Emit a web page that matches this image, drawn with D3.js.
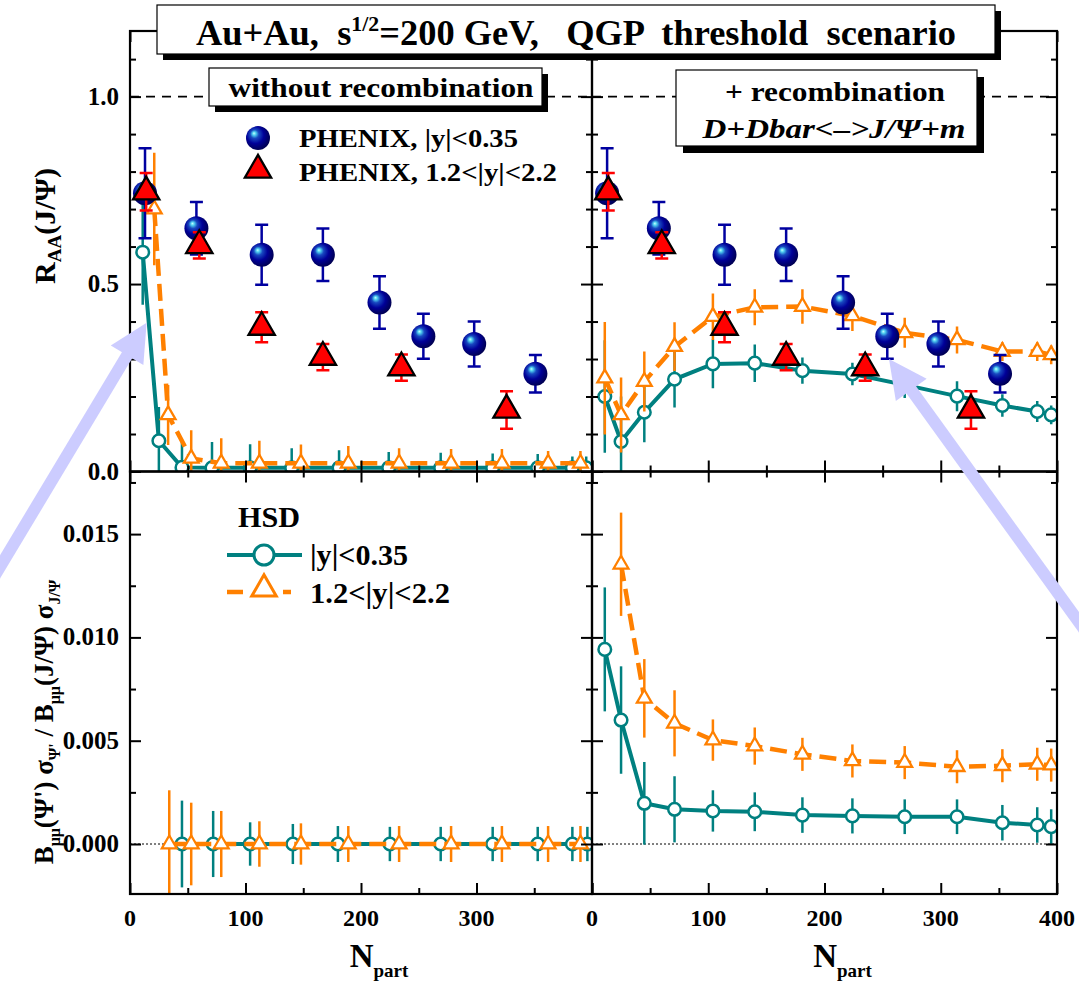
<!DOCTYPE html>
<html>
<head>
<meta charset="utf-8">
<script src="https://cdn.jsdelivr.net/npm/d3@7"></script>
<style>
  body { margin: 0; background: #fff; }
  svg { display: block; font-family: 'Liberation Serif', 'Times New Roman', serif; font-weight: bold; }
</style>
</head>
<body>
<svg width="1079" height="981"></svg>
<script>

////////////////////// DATA ////////////////////////////////////

// PHENIX, |y|<0.35
var phenix_mid_npart = [13, 57.5, 114, 167, 216, 254, 298, 351]
var phenix_mid_raa   = [0.742, 0.649, 0.578, 0.578, 0.451, 0.361, 0.340, 0.261]
var phenix_mid_err   = [0.12, 0.07, 0.08, 0.07, 0.07, 0.06, 0.06, 0.05]

// PHENIX, 1.2<|y|<2.2
var phenix_fwd_npart = [14, 60, 114, 167, 235, 326]
var phenix_fwd_raa   = [0.746, 0.603, 0.385, 0.305, 0.277, 0.164]
var phenix_fwd_err   = [0.05, 0.035, 0.04, 0.035, 0.035, 0.05]

// HSD, centrality bins
var hsd_npart = [11, 25, 45, 71, 104, 140, 181, 224, 269, 314, 353, 383, 395]

// HSD without recombination, R_AA
var norec_mid_raa = [0.585, 0.082, 0.011, 0.01, 0.01, 0.01, 0.01, 0.01, 0.01, 0.01, 0.01, 0.01, 0.01]
var norec_mid_err = [0.14, 0.09, 0.074, 0.069, 0.063, 0.052, 0.047, 0.042, 0.04, 0.038, 0.037, 0.03, 0.03]
var norec_fwd_npart = [21, 33, 53, 79, 112, 148, 189, 233, 278, 322, 362, 390]
var norec_fwd_raa = [0.70, 0.151, 0.035, 0.022, 0.022, 0.022, 0.022, 0.022, 0.022, 0.022, 0.022, 0.022]
var norec_fwd_err = [0.15, 0.08, 0.075, 0.067, 0.06, 0.05, 0.046, 0.04, 0.038, 0.038, 0.033, 0.033]

// HSD with recombination, R_AA
var rec_mid_raa = [0.20, 0.08, 0.158, 0.246, 0.287, 0.289, 0.269, 0.26, 0.231, 0.201, 0.176, 0.16, 0.151]
var rec_mid_err = [0.15, 0.12, 0.08, 0.075, 0.065, 0.05, 0.035, 0.03, 0.035, 0.04, 0.03, 0.028, 0.025]
var rec_fwd_raa = [0.249, 0.151, 0.24, 0.333, 0.413, 0.438, 0.44, 0.415, 0.37, 0.351, 0.32, 0.32, 0.311]
var rec_fwd_err = [0.15, 0.1, 0.08, 0.065, 0.062, 0.048, 0.046, 0.04, 0.04, 0.036, 0.025, 0.025, 0.025]

// HSD without recombination, psi'/(J/psi) ratio
var norec_ratio_mid_npart = [45, 72, 104, 141, 180, 225, 269, 314, 353, 383, 396]
var norec_ratio_mid = [0, 0, 0, 0, 0, 0, 0, 0, 0, 0, 0]
var norec_ratio_mid_err = [0.0021, 0.0016, 0.00105, 0.00097, 0.00087, 0.00083, 0.00083, 0.00083, 0.00083, 0.00083, 0.00083]
var norec_ratio_fwd_npart = [34, 53, 79, 112, 148, 189, 233, 278, 322, 362, 390]
var norec_ratio_fwd = [0, 0, 0, 0, 0, 0, 0, 0, 0, 0, 0]
var norec_ratio_fwd_err = [0.0026, 0.002, 0.0016, 0.0011, 0.001, 0.00087, 0.00087, 0.00087, 0.00087, 0.00087, 0.00087]

// HSD with recombination, psi'/(J/psi) ratio
var rec_ratio_mid = [0.00942, 0.0060, 0.00197, 0.00168, 0.0016, 0.00156, 0.0014, 0.00136, 0.00132, 0.00132, 0.00103, 0.00092, 0.00084]
var rec_ratio_mid_err = [0.003, 0.0026, 0.002, 0.0016, 0.001, 0.00094, 0.00086, 0.00085, 0.00084, 0.00084, 0.00086, 0.00086, 0.00084]
var rec_ratio_fwd_npart = [25, 45, 71, 104, 140, 181, 224, 269, 314, 353, 383, 395]
var rec_ratio_fwd = [0.01354, 0.00705, 0.00584, 0.00503, 0.00474, 0.00434, 0.00402, 0.00394, 0.00374, 0.00379, 0.00386, 0.00382]
var rec_ratio_fwd_err = [0.0025, 0.0019, 0.0016, 0.001, 0.0009, 0.0008, 0.0008, 0.0008, 0.0008, 0.0008, 0.0008, 0.0008]

// ticks
var x_major = [0, 100, 200, 300, 400]
var x_minor = [50, 150, 250, 350]
var raa_major = [0, 0.5, 1.0]
var raa_minor = [0.1, 0.2, 0.3, 0.4, 0.6, 0.7, 0.8, 0.9, 1.1]
var ratio_major = [0, 0.005, 0.010, 0.015]
var ratio_minor = [0.0025, 0.0075, 0.0125, 0.0175]

////////////////////// SETUP ////////////////////////////////////

var teal = '#008080'
var orange = '#ff8000'
var navy = '#0000a0'
var red = '#ff0000'
var lavender = '#ccccff'

var svg = d3.select('svg')
var defs = svg.append('defs')

var grad = defs.append('radialGradient').attr('id', 'ball')
  .attr('cx', 0.42).attr('cy', 0.42).attr('r', 0.6).attr('fx', 0.33).attr('fy', 0.3)
grad.selectAll('stop')
  .data([[0, '#c8ffff'], [0.12, '#50d0f0'], [0.3, '#1848c0'], [0.6, '#000098'], [1, '#000050']])
  .enter().append('stop')
    .attr('offset', (d) => d[0])
    .attr('stop-color', (d) => d[1])

var x_left  = d3.scaleLinear().domain([0, 400]).range([130, 592])
var x_right = d3.scaleLinear().domain([0, 400]).range([592, 1057])
var y_raa   = d3.scaleLinear().domain([0, 1.175]).range([471.5, 31])
var y_ratio = d3.scaleLinear().domain([-0.00242, 0.01803]).range([894, 471.5])

var panels = [
  { id: 'tl', x: x_left,  y: y_raa,   top: true,  left: true },
  { id: 'tr', x: x_right, y: y_raa,   top: true,  left: false },
  { id: 'bl', x: x_left,  y: y_ratio, top: false, left: true },
  { id: 'br', x: x_right, y: y_ratio, top: false, left: false }
]

panels.forEach((p) => {
  var r = p.x.range(), yr = p.y.range()
  defs.append('clipPath').attr('id', 'clip-' + p.id)
    .append('rect')
      .attr('x', r[0]).attr('y', yr[1])
      .attr('width', r[1] - r[0]).attr('height', yr[0] - yr[1])
  p.g = svg.append('g').attr('clip-path', 'url(#clip-' + p.id + ')')
})

////////////////////// DRAWING ////////////////////////////////////

function zip (npart, vals, errs) {
  return npart.map((n, i) => ({ n: n, v: vals[i], e: errs[i] }))
}

function hsd_series (g, x, y, pts, kind) {
  var col = kind === 'mid' ? teal : orange
  g.append('g').selectAll('line')
    .data(pts)
    .enter()
      .append('line')
      .attr('x1', (d) => x(d.n)).attr('x2', (d) => x(d.n))
      .attr('y1', (d) => y(d.v - d.e)).attr('y2', (d) => y(d.v + d.e))
      .attr('stroke', col).attr('stroke-width', 2.5)

  g.append('path').datum(pts)
    .attr('d', d3.line().x((d) => x(d.n)).y((d) => y(d.v)))
    .attr('fill', 'none')
    .attr('stroke', col)
    .attr('stroke-width', kind === 'mid' ? 4 : 4.5)
    .attr('stroke-dasharray', kind === 'mid' ? null : '17,8')

  if (kind === 'mid') {
    g.append('g').selectAll('circle')
      .data(pts)
      .enter()
        .append('circle')
        .attr('cx', (d) => x(d.n)).attr('cy', (d) => y(d.v))
        .attr('r', 6.3)
        .attr('fill', '#fff').attr('stroke', col).attr('stroke-width', 2.5)
  } else {
    g.append('g').selectAll('path')
      .data(pts)
      .enter()
        .append('path')
        .attr('d', d3.symbol(d3.symbolTriangle, 95))
        .attr('transform', (d) => 'translate(' + x(d.n) + ',' + y(d.v) + ')')
        .attr('fill', '#fff').attr('stroke', col).attr('stroke-width', 2.3)
  }
}

function phenix_series (g, x, y, pts, kind) {
  var col = kind === 'mid' ? navy : red
  var bars = g.append('g').attr('stroke', col).attr('stroke-width', 2.5)
  bars.selectAll('.err').data(pts).enter().append('line')
    .attr('x1', (d) => x(d.n)).attr('x2', (d) => x(d.n))
    .attr('y1', (d) => y(d.v - d.e)).attr('y2', (d) => y(d.v + d.e))
  bars.selectAll('.cap-hi').data(pts).enter().append('line')
    .attr('x1', (d) => x(d.n) - 6.5).attr('x2', (d) => x(d.n) + 6.5)
    .attr('y1', (d) => y(d.v + d.e)).attr('y2', (d) => y(d.v + d.e))
  bars.selectAll('.cap-lo').data(pts).enter().append('line')
    .attr('x1', (d) => x(d.n) - 6.5).attr('x2', (d) => x(d.n) + 6.5)
    .attr('y1', (d) => y(d.v - d.e)).attr('y2', (d) => y(d.v - d.e))

  if (kind === 'mid') {
    g.append('g').selectAll('circle')
      .data(pts)
      .enter()
        .append('circle')
        .attr('cx', (d) => x(d.n)).attr('cy', (d) => y(d.v))
        .attr('r', 12)
        .attr('fill', 'url(#ball)')
  } else {
    g.append('g').selectAll('path')
      .data(pts)
      .enter()
        .append('path')
        .attr('d', d3.symbol(d3.symbolTriangle, 300))
        .attr('transform', (d) => 'translate(' + x(d.n) + ',' + y(d.v) + ')')
        .attr('fill', red).attr('stroke', '#000').attr('stroke-width', 2.3)
  }
}

// reference lines
panels.forEach((p) => {
  var r = p.x.range()
  if (p.top) {
    p.g.append('line')
      .attr('x1', r[0]).attr('x2', r[1])
      .attr('y1', p.y(1)).attr('y2', p.y(1))
      .attr('stroke', '#000').attr('stroke-width', 1.6).attr('stroke-dasharray', '9,7')
  } else {
    p.g.append('line')
      .attr('x1', r[0]).attr('x2', r[1])
      .attr('y1', p.y(0)).attr('y2', p.y(0))
      .attr('stroke', '#000').attr('stroke-width', 1).attr('stroke-dasharray', '2,2')
  }
})

var tl = panels[0], tr = panels[1], bl = panels[2], br = panels[3]

hsd_series(tl.g, tl.x, tl.y, zip(hsd_npart, norec_mid_raa, norec_mid_err), 'mid')
hsd_series(tl.g, tl.x, tl.y, zip(norec_fwd_npart, norec_fwd_raa, norec_fwd_err), 'fwd')
hsd_series(tr.g, tr.x, tr.y, zip(hsd_npart, rec_mid_raa, rec_mid_err), 'mid')
hsd_series(tr.g, tr.x, tr.y, zip(hsd_npart, rec_fwd_raa, rec_fwd_err), 'fwd')
hsd_series(bl.g, bl.x, bl.y, zip(norec_ratio_mid_npart, norec_ratio_mid, norec_ratio_mid_err), 'mid')
hsd_series(bl.g, bl.x, bl.y, zip(norec_ratio_fwd_npart, norec_ratio_fwd, norec_ratio_fwd_err), 'fwd')
hsd_series(br.g, br.x, br.y, zip(hsd_npart, rec_ratio_mid, rec_ratio_mid_err), 'mid')
hsd_series(br.g, br.x, br.y, zip(rec_ratio_fwd_npart, rec_ratio_fwd, rec_ratio_fwd_err), 'fwd')

;[tl, tr].forEach((p) => {
  phenix_series(p.g, p.x, p.y, zip(phenix_mid_npart, phenix_mid_raa, phenix_mid_err), 'mid')
  phenix_series(p.g, p.x, p.y, zip(phenix_fwd_npart, phenix_fwd_raa, phenix_fwd_err), 'fwd')
})

// frames and ticks
panels.forEach((p) => {
  var r = p.x.range(), yr = p.y.range()
  var major = p.top ? raa_major : ratio_major
  var minor = p.top ? raa_minor : ratio_minor
  var ax = svg.append('g')

  function add (axis, tx, ty, vals, len) {
    var a = ax.append('g')
      .attr('transform', 'translate(' + tx + ',' + ty + ')')
      .call(axis.tickValues(vals).tickSize(-len).tickFormat(''))
    a.select('.domain').remove()
    a.selectAll('line').attr('stroke-width', 2)
  }
  add(d3.axisBottom(p.x), 0, yr[0], x_major, 11)
  add(d3.axisBottom(p.x), 0, yr[0], x_minor, 6)
  add(d3.axisTop(p.x), 0, yr[1], x_major, 11)
  add(d3.axisTop(p.x), 0, yr[1], x_minor, 6)
  add(d3.axisLeft(p.y), r[0], 0, major, 11)
  add(d3.axisLeft(p.y), r[0], 0, minor.filter((v) => p.y(v) > yr[1] + 2), 6)
  add(d3.axisRight(p.y), r[1], 0, major, 11)
  add(d3.axisRight(p.y), r[1], 0, minor.filter((v) => p.y(v) > yr[1] + 2), 6)

  ax.append('rect')
    .attr('x', r[0]).attr('y', yr[1])
    .attr('width', r[1] - r[0]).attr('height', yr[0] - yr[1])
    .attr('fill', 'none').attr('stroke', '#000').attr('stroke-width', 2.2)

  // x tick labels
  if (!p.top) {
    ax.selectAll('.xl')
      .data(p.left ? x_major.slice(0, 4) : x_major)
      .enter()
        .append('text')
        .attr('x', (d) => p.x(d)).attr('y', 926)
        .attr('text-anchor', 'middle')
        .attr('font-size', 24)
        .text((d) => d)
  }
  // y tick labels
  if (p.left) {
    ax.selectAll('.yl')
      .data(major)
      .enter()
        .append('text')
        .attr('x', 119).attr('y', (d) => p.y(d) + 8)
        .attr('text-anchor', 'end')
        .attr('font-size', 25)
        .text((d) => p.top ? d3.format('.1f')(d) : d3.format('.3f')(d))
  }
})

////////////////////// LABELS ////////////////////////////////////

function boxed (x, y, w, h, off) {
  svg.append('rect').attr('x', x + off).attr('y', y + off).attr('width', w).attr('height', h).attr('fill', '#000')
  svg.append('rect').attr('x', x).attr('y', y).attr('width', w).attr('height', h)
    .attr('fill', '#fff').attr('stroke', '#000').attr('stroke-width', 1.2)
}

function label (x, y, size, width, txt, anchor) {
  return svg.append('text')
    .attr('x', x).attr('y', y)
    .attr('text-anchor', anchor || 'start')
    .attr('font-size', size)
    .attr('textLength', width).attr('lengthAdjust', 'spacingAndGlyphs')
    .text(txt)
}

// title
boxed(157, 5, 838, 49, 6)
var title = svg.append('text')
  .attr('x', 576).attr('y', 45)
  .attr('text-anchor', 'middle')
  .attr('font-size', 35)
  .attr('textLength', 760).attr('lengthAdjust', 'spacingAndGlyphs')
  .style('white-space', 'pre')
title.append('tspan').text('Au+Au,  s')
title.append('tspan').attr('font-size', 21).attr('dy', -14).text('1/2')
title.append('tspan').attr('dy', 14).text('=200 GeV,   QGP  threshold  scenario')

// panel boxes
boxed(209, 68, 333, 38, 6)
label(381, 97, 28, 305, 'without recombination', 'middle')

boxed(676, 70, 301, 76, 7)
label(835, 101, 28, 220, '+ recombination', 'middle')
label(834, 138, 28, 263, 'D+Dbar<\u2013>J/\u03A8+m', 'middle').attr('font-style', 'italic')

// PHENIX legend
svg.append('circle').attr('cx', 258).attr('cy', 138).attr('r', 12).attr('fill', 'url(#ball)')
svg.append('path').attr('d', d3.symbol(d3.symbolTriangle, 300))
  .attr('transform', 'translate(258,170)')
  .attr('fill', red).attr('stroke', '#000').attr('stroke-width', 2.3)
label(299, 147, 26, 219, 'PHENIX, |y|<0.35')
label(299, 181, 26, 258, 'PHENIX, 1.2<|y|<2.2')

// HSD legend
label(238, 527, 29, 62, 'HSD')
svg.append('line').attr('x1', 227).attr('x2', 302).attr('y1', 555).attr('y2', 555)
  .attr('stroke', teal).attr('stroke-width', 4)
svg.append('circle').attr('cx', 264).attr('cy', 555).attr('r', 10)
  .attr('fill', '#fff').attr('stroke', teal).attr('stroke-width', 3)
label(310, 565, 29, 98, '|y|<0.35')
svg.append('line').attr('x1', 227).attr('x2', 291).attr('y1', 592).attr('y2', 592)
  .attr('stroke', orange).attr('stroke-width', 4.5).attr('stroke-dasharray', '16,40')
svg.append('path').attr('d', d3.symbol(d3.symbolTriangle, 260))
  .attr('transform', 'translate(264,589)')
  .attr('fill', '#fff').attr('stroke', orange).attr('stroke-width', 3)
label(310, 603, 29, 140, '1.2<|y|<2.2')

// axis titles
var yt1 = svg.append('text')
  .attr('transform', 'translate(55,226) rotate(-90)')
  .attr('text-anchor', 'middle').attr('font-size', 30)
yt1.append('tspan').text('R')
yt1.append('tspan').attr('font-size', 19).attr('dy', 6).text('AA')
yt1.append('tspan').attr('dy', -6).text('(J/\u03A8)')

var yt2 = svg.append('text')
  .attr('transform', 'translate(53,722) rotate(-90)')
  .attr('text-anchor', 'middle').attr('font-size', 27)
yt2.append('tspan').text('B')
yt2.append('tspan').attr('font-size', 16).attr('dy', 7).text('\u03BC\u03BC')
yt2.append('tspan').attr('dy', -7).text('(\u03A8\') \u03C3')
yt2.append('tspan').attr('font-size', 16).attr('dy', 7).text('\u03A8\'')
yt2.append('tspan').attr('dy', -7).text(' / B')
yt2.append('tspan').attr('font-size', 16).attr('dy', 7).text('\u03BC\u03BC')
yt2.append('tspan').attr('dy', -7).text('(J/\u03A8) \u03C3')
yt2.append('tspan').attr('font-size', 16).attr('dy', 7).text('J/\u03A8')

;[x_left, x_right].forEach((x) => {
  var t = svg.append('text')
    .attr('x', x(200) + 18).attr('y', 967)
    .attr('text-anchor', 'middle').attr('font-size', 33)
  t.append('tspan').text('N')
  t.append('tspan').attr('font-size', 19).attr('dy', 10).text('part')
})

////////////////////// ARROWS ////////////////////////////////////

var arrows = [
  { x: x_left,  tip: [14.4, 0.397],  tail: [-130, -0.344] },
  { x: x_right, tip: [255.5, 0.300], tail: [437, -0.48] }
]

arrows.forEach((a) => {
  var tx = a.x(a.tip[0]), ty = y_raa(a.tip[1])
  var sx = a.x(a.tail[0]), sy = y_raa(a.tail[1])
  var len = Math.hypot(tx - sx, ty - sy)
  var ux = (tx - sx) / len, uy = (ty - sy) / len
  var bx = tx - 38 * ux, by = ty - 38 * uy
  svg.append('line')
    .attr('x1', sx).attr('y1', sy).attr('x2', bx + 2 * ux).attr('y2', by + 2 * uy)
    .attr('stroke', lavender).attr('stroke-width', 12)
  svg.append('polygon')
    .attr('points', [[tx, ty], [bx - 19 * uy, by + 19 * ux], [bx + 19 * uy, by - 19 * ux]].map((p) => p.join(',')).join(' '))
    .attr('fill', lavender)
})

</script>
</body>
</html>
